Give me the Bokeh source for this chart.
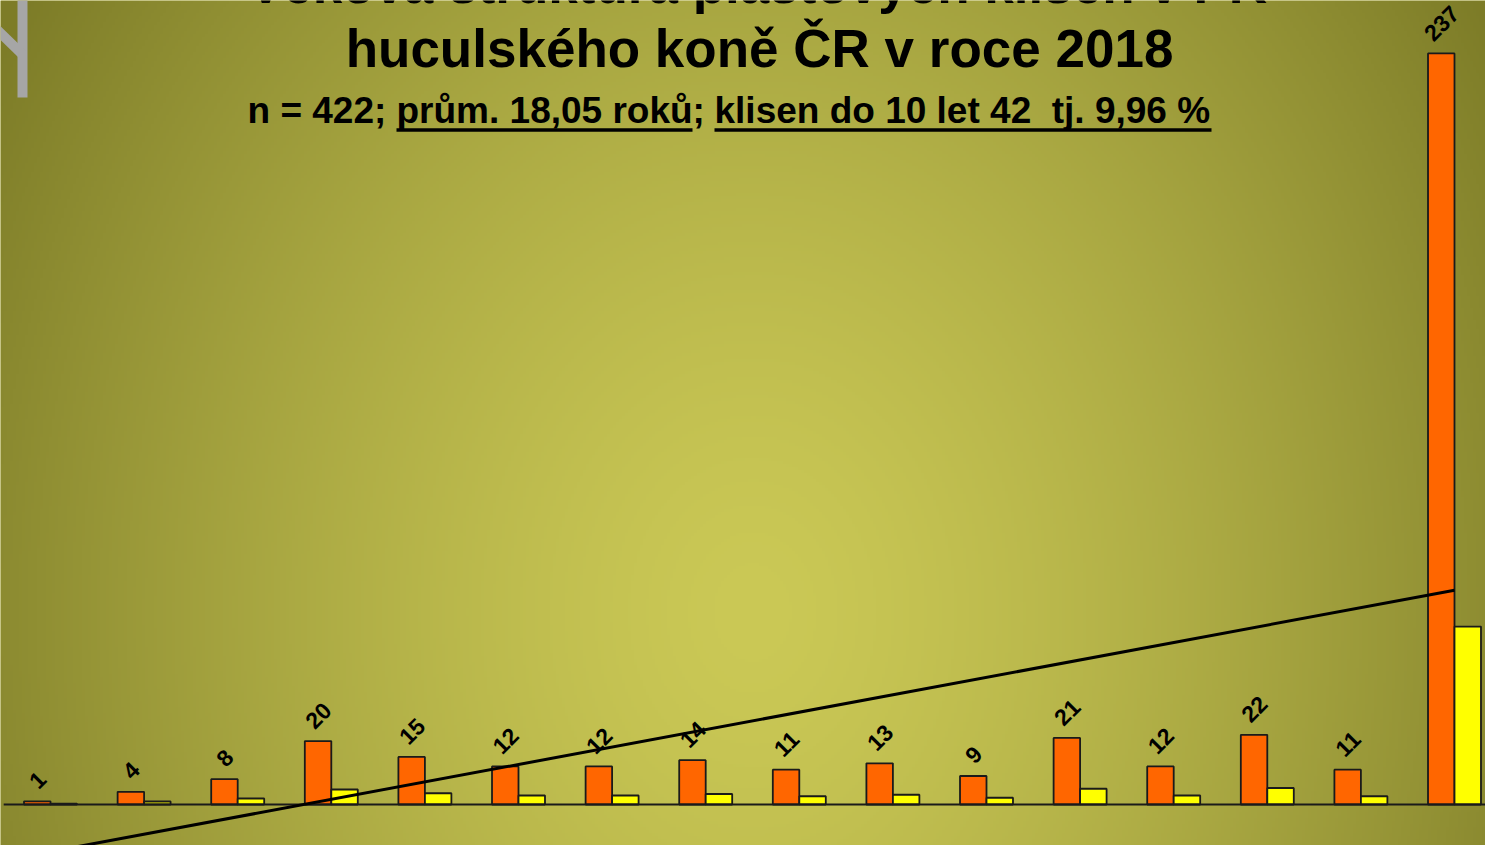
import math
import numpy as np
from bokeh.plotting import figure
from bokeh.models import ColumnDataSource, Range1d, Label
from bokeh.core.properties import value
from bokeh.transform import dodge
from bokeh.embed import file_html
from bokeh.resources import INLINE

# ---------------- data ----------------
categories = [str(i) for i in range(1, 17)]
counts = [1, 4, 8, 20, 15, 12, 12, 14, 11, 13, 9, 21, 12, 22, 11, 237]
total = sum(counts)
percents = [c / total * 100 for c in counts]
title_line1 = "Věková struktura plastových klisen v PK"
title_line2 = "huculského koně ČR v roce 2018"
sub_a = "n = 422; "
sub_b = "prům. 18,05 roků"
sub_c = "; "
sub_d = "klisen do 10 let 42 \u00a0tj. 9,96 %"

# ---------------- layout helpers ----------------
W, H = 1485, 845
OFF = 8                      # page margin (reference pixel of canvas origin)
STEP = 93.6                  # px per category
C1 = 58                      # ref px of first category centre
BASE = 812                   # ref px of y = 0
PPU = 3.169                  # px per unit


def xd(px):
    return 1 + (px - C1) / STEP


def yd(py):
    return (BASE - py) / PPU


n = len(categories)
xs = np.arange(1, n + 1)

p = figure(width=W, height=H, output_backend="svg", toolbar_location=None,
           x_range=Range1d(xd(OFF), xd(OFF + W)),
           y_range=Range1d(yd(OFF + H), yd(OFF)),
           min_border=0, outline_line_color=None)
p.axis.visible = False
p.grid.visible = False
p.background_fill_color = "#b5b34a"
p.border_fill_color = "#b5b34a"

# ---------------- background gradient ----------------
gh, gw = H // 3, W // 3
gy, gx = np.mgrid[0:gh, 0:gw]
rx = OFF + (gx + 0.5) * W / gw
ry = OFF + (gy + 0.5) * H / gh
t = np.sqrt(((rx - 760) / 760) ** 2 + ((ry - 620) / 950) ** 2)
t = np.clip(t, 0, 1.15) ** 1.4
c_in = np.array([203, 201, 86])
c_out = np.array([139, 138, 48])
col = c_in[None, None, :] + (c_out - c_in)[None, None, :] * t[:, :, None]
col = np.clip(col, 0, 255).astype(np.uint32)
img = (255 << 24) | (col[:, :, 2] << 16) | (col[:, :, 1] << 8) | col[:, :, 0]
img = np.flipud(img).astype(np.uint32)
p.image_rgba(image=[img], x=xd(OFF), y=yd(OFF + H),
             dw=xd(OFF + W) - xd(OFF), dh=yd(OFF) - yd(OFF + H))

# decorative grey glyph at top-left
p.segment(x0=[xd(30), xd(-5)], y0=[yd(-10), yd(28)],
          x1=[xd(30), xd(30)], y1=[yd(105), yd(62)],
          line_color="#a6a6a6", line_width=10, line_cap="butt")

# ---------------- bars ----------------
src = ColumnDataSource(dict(
    x=xs, counts=counts, percents=percents,
    label=[str(c) for c in counts],
    yoff=[-(17 + 4.5 * len(str(c))) for c in counts],
))
bw = 0.283
p.vbar(x=dodge("x", -bw / 2), top="counts", bottom=0, width=bw, source=src,
       fill_color="#FF6600", line_color="#1a1a1a", line_width=1.8)
p.vbar(x=dodge("x", bw / 2), top="percents", bottom=0, width=bw, source=src,
       fill_color="#FFFF00", line_color="#1a1a1a", line_width=1.8)

# axis baseline
p.segment(x0=[0.5], y0=[0], x1=[n + 0.5], y1=[0], line_color="#1a1a1a", line_width=2)

# value labels
p.text(x=dodge("x", -bw / 2), y="counts", text="label", source=src,
       angle=math.pi / 4, text_align="center", text_baseline="middle",
       y_offset="yoff", text_font=value("Liberation Sans"),
       text_font_style="bold", text_font_size="23px", text_color="#000000")

# linear trend line of the counts
slope, intercept = np.polyfit(xs, counts, 1)
p.line(x=[xs[0], xs[-1]], y=[slope * xs[0] + intercept, slope * xs[-1] + intercept],
       line_color="#000000", line_width=3)

# ---------------- titles ----------------
TF = "Liberation Sans"
p.add_layout(Label(x=xd(765), y=yd(13 - 21), text=title_line1, text_align="center",
                   text_baseline="alphabetic", text_font=TF, text_font_style="bold",
                   text_font_size="53px", text_color="#000000"))
p.add_layout(Label(x=xd(767), y=yd(77 - 21), text=title_line2, text_align="center",
                   text_baseline="alphabetic", text_font=TF, text_font_style="bold",
                   text_font_size="53px", text_color="#000000"))
for txt, px in [(sub_a, 255), (sub_b, 404), (sub_c, 700), (sub_d, 722)]:
    p.add_layout(Label(x=xd(px), y=yd(132 - 14), text=txt, text_align="left",
                       text_baseline="alphabetic", text_font=TF, text_font_style="bold",
                       text_font_size="37px", text_color="#000000"))
p.segment(x0=[xd(404), xd(722)], y0=[yd(137.5)] * 2, x1=[xd(700), xd(1219)],
          y1=[yd(137.5)] * 2, line_color="#000000", line_width=3.5)

open("out.html", "w").write(file_html(p, INLINE))
